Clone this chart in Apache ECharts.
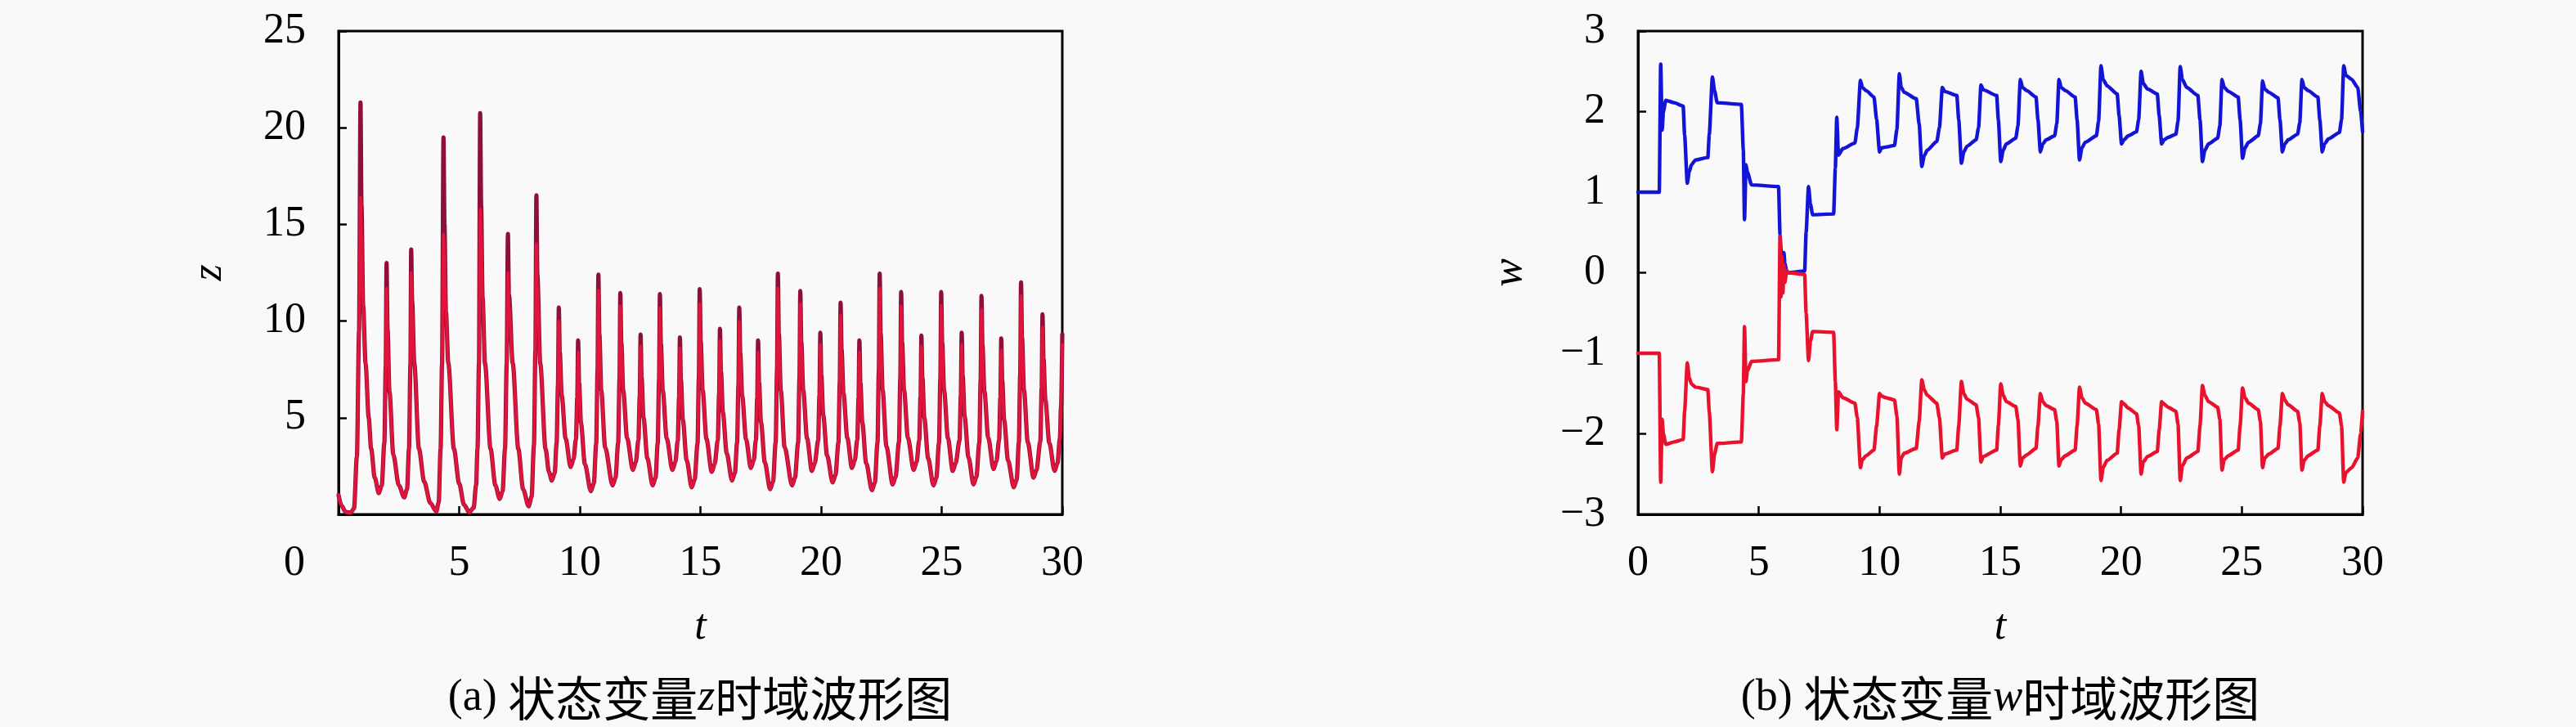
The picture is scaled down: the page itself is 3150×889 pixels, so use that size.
<!DOCTYPE html>
<html><head><meta charset="utf-8">
<script src="https://cdn.jsdelivr.net/npm/echarts@6/dist/echarts.min.js"></script>
<style>html,body{margin:0;padding:0;background:#f9f9f9}#c{width:3150px;height:889px}</style>
</head><body><div id="c"></div><script>
// ---------- data: panel (a) z(t) ----------
const tZ = [
0.00,0.12,0.30,0.50,0.64,0.76,0.85,0.91,0.95,1.02,1.12,1.25,1.35,1.50,1.67,
1.79,1.90,1.955,1.99,2.03,2.11,2.27,2.50,2.72,
2.84,2.92,2.98,3.01,3.05,3.14,3.33,3.55,3.80,4.05,
4.15,4.23,4.29,4.35,4.39,4.45,4.55,4.78,5.00,5.20,5.42,
5.60,5.70,5.76,5.82,5.87,5.91,5.97,6.07,6.30,6.50,6.68,
6.80,6.90,6.97,7.02,7.06,7.22,7.45,7.65,7.88,
8.00,8.10,8.16,8.20,8.24,8.36,8.58,8.72,8.84,
8.96,9.04,9.095,9.13,9.17,9.25,9.41,9.62,
9.74,9.84,9.895,9.93,9.97,10.05,10.21,10.46,
10.58,10.68,10.735,10.77,10.81,10.89,11.05,11.36,
11.48,11.59,11.645,11.68,11.72,11.80,11.96,12.20,
12.32,12.43,12.485,12.52,12.56,12.64,12.80,13.02,
13.14,13.23,13.285,13.32,13.36,13.44,13.60,13.84,
13.96,14.06,14.115,14.15,14.19,14.27,14.43,14.64,
14.76,14.88,14.935,14.97,15.01,15.09,15.25,15.47,
15.59,15.72,15.775,15.81,15.85,15.93,16.09,16.31,
16.43,16.52,16.575,16.61,16.65,16.73,16.89,17.09,
17.21,17.30,17.355,17.39,17.43,17.51,17.67,17.89,
18.01,18.12,18.175,18.21,18.25,18.33,18.49,18.80,
18.92,19.05,19.105,19.14,19.18,19.26,19.42,19.62,
19.74,19.88,19.935,19.97,20.01,20.09,20.25,20.48,
20.60,20.72,20.775,20.81,20.85,20.93,21.09,21.28,
21.40,21.50,21.555,21.59,21.63,21.71,21.87,22.11,
22.23,22.34,22.395,22.43,22.47,22.55,22.71,22.97,
23.09,23.23,23.285,23.32,23.36,23.44,23.60,23.84,
23.96,24.07,24.125,24.16,24.20,24.28,24.44,24.66,
24.78,24.89,24.945,24.98,25.02,25.10,25.26,25.46,
25.58,25.74,25.795,25.83,25.87,25.95,26.11,26.32,
26.44,26.56,26.615,26.65,26.69,26.77,26.93,27.15,
27.27,27.38,27.435,27.47,27.51,27.59,27.75,27.99,
28.11,28.20,28.255,28.29,28.33,28.41,28.57,28.81,
28.93,29.09,29.145,29.18,29.22,29.30,29.46,29.68,
29.80,29.90,29.95,30.00
];
const zDark = [
1.00,0.45,0.12,0.08,0.30,3.00,9.50,21.30,16.00,10.80,7.80,5.00,3.40,1.90,1.10,
1.50,3.72,7.65,13.00,9.60,6.35,3.08,1.50,0.88,
1.30,3.40,7.80,13.70,11.00,7.80,3.40,1.70,0.60,0.15,
0.60,3.40,7.80,19.50,15.00,10.50,7.80,3.40,1.60,0.50,0.10,
0.35,1.50,3.40,7.80,20.75,16.00,11.20,7.80,3.40,1.50,0.80,
1.20,3.40,7.80,14.50,11.40,7.80,3.40,1.30,0.42,
0.90,3.60,8.50,16.50,12.40,7.80,3.40,2.20,1.75,
2.15,3.72,6.67,10.70,8.39,6.16,3.94,2.45,
2.85,3.89,6.05,9.00,6.82,4.71,2.60,1.20,
1.60,3.66,7.36,12.40,9.35,6.40,3.46,1.50,
1.90,3.70,6.97,11.45,8.90,6.40,3.95,2.30,
2.70,3.84,6.15,9.30,7.10,5.00,2.90,1.50,
1.90,3.68,6.95,11.40,8.85,6.40,3.94,2.30,
2.70,3.80,6.07,9.15,6.98,4.89,2.80,1.40,
1.80,3.66,7.04,11.65,9.00,6.45,3.90,2.20,
2.60,3.83,6.27,9.60,7.40,5.28,3.16,1.75,
2.15,3.72,6.67,10.70,8.38,6.14,3.89,2.40,
2.80,3.85,6.03,9.00,6.84,4.77,2.69,1.30,
1.70,3.75,7.43,12.45,9.38,6.43,3.47,1.50,
1.90,3.71,7.03,11.55,8.95,6.44,3.92,2.25,
2.65,3.82,6.18,9.40,7.23,5.14,3.05,1.65,
2.05,3.70,6.77,10.95,8.56,6.25,3.94,2.40,
2.80,3.85,6.03,9.00,6.83,4.74,2.65,1.25,
1.65,3.71,7.41,12.45,9.40,6.46,3.51,1.55,
1.95,3.74,7.02,11.50,8.92,6.44,3.96,2.30,
2.70,3.83,6.12,9.25,7.08,4.99,2.90,1.50,
1.90,3.70,7.00,11.50,8.91,6.41,3.92,2.25,
2.65,3.82,6.18,9.40,7.20,5.08,2.96,1.55,
1.95,3.70,6.91,11.30,8.79,6.38,3.96,2.35,
2.75,3.84,6.06,9.10,6.94,4.87,2.79,1.40,
1.80,3.73,7.23,12.00,9.17,6.45,3.72,1.90,
2.30,3.76,6.55,10.35,8.08,5.90,3.71,2.25,
2.65,3.90,5.60,9.30
];
const zRed = [
1.00,0.45,0.12,0.08,0.30,3.00,9.50,16.40,14.50,10.80,7.80,5.00,3.40,1.90,1.10,
1.50,3.72,7.65,11.70,9.40,6.35,3.08,1.50,0.88,
1.30,3.40,7.80,12.50,10.60,7.80,3.40,1.70,0.60,0.15,
0.60,3.40,7.80,14.50,13.50,10.50,7.80,3.40,1.60,0.50,0.10,
0.35,1.50,3.40,7.80,15.80,14.60,11.20,7.80,3.40,1.50,0.80,
1.20,3.40,7.80,12.50,10.80,7.80,3.40,1.30,0.42,
0.90,3.60,8.50,14.00,11.80,7.80,3.40,2.20,1.75,
2.15,3.72,6.67,10.00,8.20,6.16,3.94,2.45,
2.85,3.89,6.05,8.40,6.70,4.71,2.60,1.20,
1.60,3.66,7.36,11.60,9.10,6.40,3.46,1.50,
1.90,3.70,6.97,10.80,8.70,6.40,3.95,2.30,
2.70,3.84,6.15,8.70,6.90,5.00,2.90,1.50,
1.90,3.68,6.95,10.70,8.60,6.40,3.94,2.30,
2.70,3.80,6.07,8.60,6.80,4.89,2.80,1.40,
1.80,3.66,7.04,10.90,8.80,6.45,3.90,2.20,
2.60,3.83,6.27,9.00,7.20,5.28,3.16,1.75,
2.15,3.72,6.67,10.00,8.20,6.14,3.89,2.40,
2.80,3.85,6.03,8.40,6.70,4.77,2.69,1.30,
1.70,3.75,7.43,11.70,9.10,6.43,3.47,1.50,
1.90,3.71,7.03,10.90,8.70,6.44,3.92,2.25,
2.65,3.82,6.18,8.80,7.00,5.14,3.05,1.65,
2.05,3.70,6.77,10.30,8.30,6.25,3.94,2.40,
2.80,3.85,6.03,8.40,6.60,4.74,2.65,1.25,
1.65,3.71,7.41,11.70,9.10,6.46,3.51,1.55,
1.95,3.74,7.02,10.80,8.70,6.44,3.96,2.30,
2.70,3.83,6.12,8.70,6.90,4.99,2.90,1.50,
1.90,3.70,7.00,10.80,8.70,6.41,3.92,2.25,
2.65,3.82,6.18,8.80,7.00,5.08,2.96,1.55,
1.95,3.70,6.91,10.60,8.60,6.38,3.96,2.35,
2.75,3.84,6.06,8.50,6.70,4.87,2.79,1.40,
1.80,3.73,7.23,11.30,8.90,6.45,3.72,1.90,
2.30,3.76,6.55,9.70,7.90,5.90,3.71,2.25,
2.65,3.90,5.60,8.80
];
const zTicks = [0, 5, 10, 15, 20, 25];

// ---------- data: panel (b) w(t) ----------
const tW = [
0.00,0.88,0.94,1.00,1.05,1.15,1.50,1.87,1.93,2.04,2.12,2.21,2.38,2.89,2.95,3.08,3.17,3.28,
4.28,4.36,4.41,4.47,4.53,4.70,5.82,5.88,5.92,5.96,6.00,6.04,6.08,6.15,6.22,6.90,6.96,
7.06,7.14,7.23,8.10,8.17,8.23,8.30,8.48,8.98,9.08,9.21,
9.29,9.45,9.77,9.88,10.00,10.08,10.25,10.62,10.72,10.82,
10.90,11.02,11.52,11.64,11.75,11.85,11.97,12.37,12.48,12.60,
12.70,13.20,13.28,13.39,13.49,13.62,14.00,14.10,14.20,
14.30,14.85,14.92,15.02,15.12,15.25,15.64,15.73,15.83,
15.92,16.10,16.48,16.56,16.66,16.76,16.90,17.25,17.34,17.43,
17.52,17.70,18.10,18.18,18.28,18.38,18.52,18.98,19.07,19.17,
19.26,19.42,19.84,19.92,20.02,20.12,20.30,20.64,20.73,20.83,
20.92,21.10,21.50,21.58,21.68,21.78,21.95,22.27,22.36,22.45,
22.54,22.72,23.18,23.27,23.37,23.47,23.62,24.00,24.09,24.18,
24.27,24.45,24.85,24.93,25.03,25.13,25.28,25.68,25.77,25.86,
25.95,26.12,26.50,26.58,26.68,26.78,26.92,27.31,27.40,27.49,
27.58,27.75,28.15,28.23,28.33,28.43,28.58,29.04,29.13,29.22,
29.31,29.55,29.80,29.92,30.00
];
const wBlue = [
1.00,1.00,2.59,1.77,2.00,2.14,2.11,2.07,1.71,1.11,1.25,1.34,1.40,1.43,1.71,2.43,2.26,2.11,
2.09,1.52,0.66,1.34,1.25,1.09,1.07,0.47,0.30,0.16,0.22,0.25,0.12,0.03,0.00,0.02,0.50,
1.07,0.85,0.72,0.73,1.30,1.93,1.46,1.54,1.61,1.80,2.39,
2.30,2.26,2.18,1.90,1.50,1.55,1.56,1.58,1.78,2.47,
2.30,2.24,2.16,1.85,1.32,1.45,1.52,1.63,1.80,2.30,
2.25,2.20,1.90,1.36,1.50,1.57,1.65,1.80,2.33,
2.27,2.20,1.90,1.38,1.52,1.60,1.67,1.82,2.40,
2.30,2.26,2.18,1.90,1.50,1.60,1.65,1.70,1.85,2.40,
2.30,2.26,2.18,1.90,1.40,1.55,1.62,1.70,1.88,2.57,
2.40,2.32,2.22,1.95,1.60,1.65,1.70,1.75,1.90,2.50,
2.35,2.28,2.22,1.95,1.60,1.65,1.68,1.72,1.88,2.56,
2.40,2.30,2.20,1.90,1.38,1.52,1.60,1.67,1.82,2.40,
2.30,2.25,2.18,1.90,1.42,1.55,1.62,1.70,1.85,2.38,
2.28,2.24,2.17,1.90,1.50,1.60,1.65,1.72,1.86,2.40,
2.30,2.26,2.18,1.90,1.50,1.60,1.66,1.74,1.90,2.57,
2.45,2.40,2.30,2.00,1.75
];
const wRed = [
-1.00,-1.00,-2.60,-1.82,-2.00,-2.13,-2.10,-2.07,-1.72,-1.12,-1.30,-1.38,-1.42,-1.45,-1.72,-2.47,-2.25,-2.12,
-2.10,-1.50,-0.67,-1.35,-1.22,-1.10,-1.08,0.45,-0.30,0.20,-0.25,0.10,-0.12,0.02,0.00,-0.02,-0.50,
-1.09,-0.85,-0.73,-0.74,-1.35,-1.95,-1.48,-1.55,-1.62,-1.80,-2.42,
-2.32,-2.27,-2.20,-1.90,-1.50,-1.53,-1.55,-1.58,-1.78,-2.50,
-2.30,-2.24,-2.18,-1.85,-1.33,-1.45,-1.52,-1.62,-1.80,-2.30,
-2.25,-2.20,-1.90,-1.35,-1.50,-1.57,-1.64,-1.80,-2.35,
-2.28,-2.20,-1.90,-1.38,-1.52,-1.60,-1.66,-1.82,-2.40,
-2.30,-2.26,-2.18,-1.90,-1.50,-1.60,-1.65,-1.70,-1.85,-2.40,
-2.32,-2.27,-2.20,-1.90,-1.42,-1.55,-1.62,-1.70,-1.88,-2.58,
-2.42,-2.33,-2.24,-1.95,-1.60,-1.63,-1.68,-1.75,-1.90,-2.50,
-2.35,-2.28,-2.22,-1.95,-1.60,-1.63,-1.67,-1.72,-1.88,-2.58,
-2.40,-2.30,-2.22,-1.90,-1.40,-1.52,-1.60,-1.67,-1.82,-2.45,
-2.32,-2.27,-2.20,-1.90,-1.43,-1.55,-1.62,-1.70,-1.85,-2.42,
-2.30,-2.25,-2.18,-1.90,-1.50,-1.58,-1.64,-1.72,-1.86,-2.45,
-2.33,-2.27,-2.20,-1.90,-1.50,-1.60,-1.65,-1.74,-1.90,-2.60,
-2.48,-2.42,-2.30,-2.00,-1.72
];
const tTicks = [0, 5, 10, 15, 20, 25, 30];
const wTicks = [-3, -2, -1, 0, 1, 2, 3];
const captions = ['状态变量', '时域波形图'];

// ---------- chart ----------
const serif = '"Liberation Serif","Times New Roman",serif';
const cjk = '"Noto Sans CJK SC",sans-serif';
const FS = 52;
const pairs = (xs, ys) => xs.map((x, i) => [x, ys[i]]);

function xAx(grid, shiftZero) {
  return {
    gridIndex: grid, type: 'value', min: tTicks[0], max: tTicks[tTicks.length - 1], interval: 5,
    axisLine: {show: true, onZero: false, lineStyle: {color: '#000', width: 3}},
    axisTick: {show: true, inside: true, length: 10, lineStyle: {color: '#000', width: 2.5}},
    splitLine: {show: false},
    axisLabel: {
      margin: 34, color: '#000', fontFamily: serif, fontSize: FS, lineHeight: FS,
      formatter: v => (shiftZero && v === 0) ? '{s|0}' : String(v),
      rich: {s: {padding: [0, 108, 0, 0], color: '#000', fontFamily: serif, fontSize: FS, lineHeight: FS}}
    },
    name: 't', nameLocation: 'middle', nameGap: 112,
    nameTextStyle: {color: '#000', fontFamily: serif, fontStyle: 'italic', fontSize: FS}
  };
}
function yAx(grid, lo, hi, name, hideZero, gap) {
  return {
    gridIndex: grid, type: 'value', min: lo, max: hi, interval: (grid === 0 ? 5 : 1),
    axisLine: {show: true, onZero: false, lineStyle: {color: '#000', width: 3}},
    axisTick: {show: true, inside: true, length: 10, lineStyle: {color: '#000', width: 2.5}},
    splitLine: {show: false},
    axisLabel: {
      margin: 40, color: '#000', fontFamily: serif, fontSize: FS,
      formatter: v => (hideZero && v === 0) ? '' : (v < 0 ? '\u2212' + Math.abs(v) : String(v))
    },
    name: name, nameLocation: 'middle', nameRotate: 90, nameGap: gap,
    nameTextStyle: {color: '#000', fontFamily: serif, fontStyle: 'italic', fontSize: FS}
  };
}
const gridBase = {top: 38, height: 591, show: true, borderColor: '#000', borderWidth: 3, backgroundColor: 'transparent'};
const lineS = (xi, data, color, width, sm) => ({
  type: 'line', xAxisIndex: xi, yAxisIndex: xi, data: data, showSymbol: false, symbol: 'none',
  smooth: sm, smoothMonotone: 'x', lineStyle: {color: color, width: width, join: 'round', cap: 'round'},
  silent: true, animation: false, clip: true
});
const capRich = {
  n: {fontFamily: serif, fontSize: 54, fontWeight: 'normal', color: '#000'},
  c: {fontFamily: cjk, fontSize: 58, fontWeight: 'normal', color: '#000'},
  i: {fontFamily: serif, fontStyle: 'italic', fontSize: 54, fontWeight: 'normal', color: '#000'}
};

const chart = echarts.init(document.getElementById('c'), null, {renderer: 'canvas'});
chart.setOption({
  backgroundColor: '#f9f9f9',
  animation: false,
  title: [
    {text: '{n|(a) }{c|' + captions[0] + '}{i|z}{c|' + captions[1] + '}', left: 856, top: 825, textAlign: 'center', padding: 0, textStyle: {fontWeight: 'normal', rich: capRich}},
    {text: '{n|(b) }{c|' + captions[0] + '}{i|w}{c|' + captions[1] + '}', left: 2446, top: 825, textAlign: 'center', padding: 0, textStyle: {fontWeight: 'normal', rich: capRich}}
  ],
  grid: [
    Object.assign({left: 414, width: 885}, gridBase),
    Object.assign({left: 2003, width: 886}, gridBase)
  ],
  xAxis: [xAx(0, true), xAx(1, false)],
  yAxis: [
    yAx(0, zTicks[0], zTicks[zTicks.length - 1], 'z', true, 132),
    yAx(1, wTicks[0], wTicks[wTicks.length - 1], 'w', false, 131)
  ],
  series: [
    lineS(0, pairs(tZ, zDark), '#8e1038', 5.2, 0.3),
    lineS(0, pairs(tZ, zRed), '#e3143c', 3.6, 0.3),
    lineS(1, pairs(tW, wBlue), '#1414d6', 4.4, 0.2),
    lineS(1, pairs(tW, wRed), '#e8122e', 4.4, 0.2)
  ]
});
</script></body></html>
